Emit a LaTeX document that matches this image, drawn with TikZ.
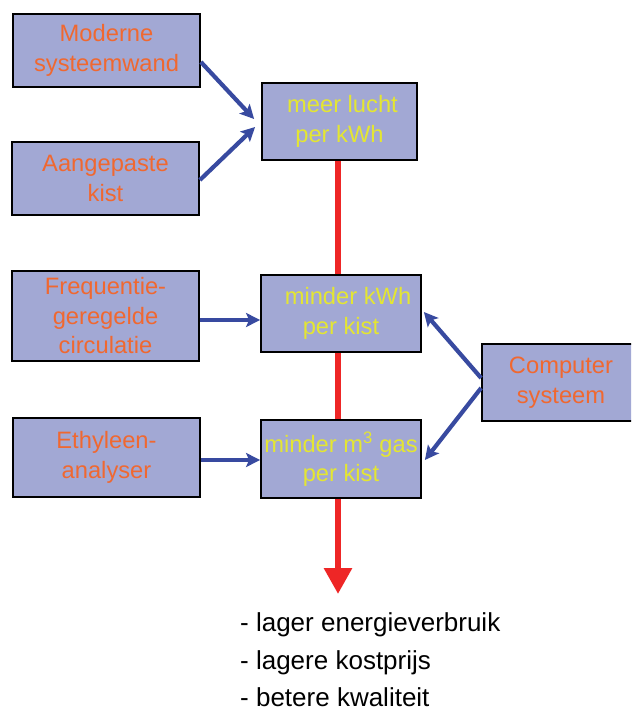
\documentclass[tikz,border=0pt]{standalone}
\usepackage{fontspec}
\setmainfont{Liberation Sans}
\usetikzlibrary{arrows.meta}
\definecolor{boxfill}{RGB}{162,168,212}
\definecolor{orangetxt}{RGB}{240,104,48}
\definecolor{yellowtxt}{RGB}{228,230,50}
\definecolor{arrowblue}{RGB}{56,74,160}
\definecolor{arrowred}{RGB}{238,38,38}
\tikzset{
  box/.style={draw=black, line width=1.8pt, fill=boxfill, align=center, inner sep=0pt,
    font=\fontsize{23.7}{29.5}\selectfont},
  cause/.style={box, text=orangetxt},
  effect/.style={box, text=yellowtxt},
  bluearrow/.style={draw=arrowblue, line width=4.2pt, -{Stealth[length=14pt,width=14pt,inset=3pt]}},
  redarrow/.style={draw=arrowred, line width=6pt, -{Triangle[length=26pt,width=27pt]}},
  result/.style={anchor=base west, inner sep=0pt, font=\fontsize{26}{30}\selectfont}
}
\begin{document}
\begin{tikzpicture}[x=1pt,y=-1pt]
\useasboundingbox (0,0) rectangle (631,711);
\clip (0,0) rectangle (631,711);
\fill[white] (0,0) rectangle (631,711);
% red trunk
\coordinate (tip) at (338,594);
\node[effect, minimum width=155pt, minimum height=77pt] (meer) at (339.5,121.5) {\hspace*{6pt}meer lucht\\per kWh};
\draw[redarrow] ([xshift=-1.5pt]meer.south) -- (tip);
\node[effect, minimum width=160pt, minimum height=77pt] (mkwh) at (341,313.5) {\hspace*{14pt}minder kWh\\per kist};
\node[effect, minimum width=160pt, minimum height=78pt] (mm3) at (341,459) {minder m\textsuperscript{3} gas\\per kist};
% causes
\node[cause, minimum width=187pt, minimum height=73pt] (mod) at (106.5,50.5) {Moderne\\systeemwand};
\node[cause, minimum width=187pt, minimum height=73pt] (aan) at (105.5,178.5) {Aangepaste\\kist};
\node[cause, minimum width=187pt, minimum height=90pt] (freq) at (105.5,316) {Frequentie-\\geregelde\\circulatie};
\node[cause, minimum width=187pt, minimum height=79pt] (eth) at (106.5,457.5) {Ethyleen-\\analyser};
\node[cause, minimum width=158pt, minimum height=77pt] (comp) at (561,382.5) {Computer\\systeem};
% blue arrows
\draw[bluearrow] ([yshift=-11.5pt]mod.east) -- ([xshift=-7pt,yshift=2.5pt]meer.west);
\draw[bluearrow] ([yshift=-1.5pt]aan.east) -- ([xshift=-6pt,yshift=-5.5pt]meer.west);
\draw[bluearrow] ([yshift=-4pt]freq.east) -- ([yshift=-6.5pt]mkwh.west);
\draw[bluearrow] ([yshift=-2.5pt]eth.east) -- ([yshift=-1pt]mm3.west);
\draw[bluearrow] ([yshift=4.5pt]comp.west) -- ([xshift=2pt,yshift=1.5pt]mkwh.east);
\draw[bluearrow] ([yshift=-5.5pt]comp.west) -- ([xshift=3pt,yshift=-1pt]mm3.east);
% results
\node[result] (r1) at (240,631) {- lager energieverbruik};
\node[result] (r2) at (240,669.5) {- lagere kostprijs};
\node[result] (r3) at (240,706.5) {- betere kwaliteit};
\end{tikzpicture}
\end{document}
